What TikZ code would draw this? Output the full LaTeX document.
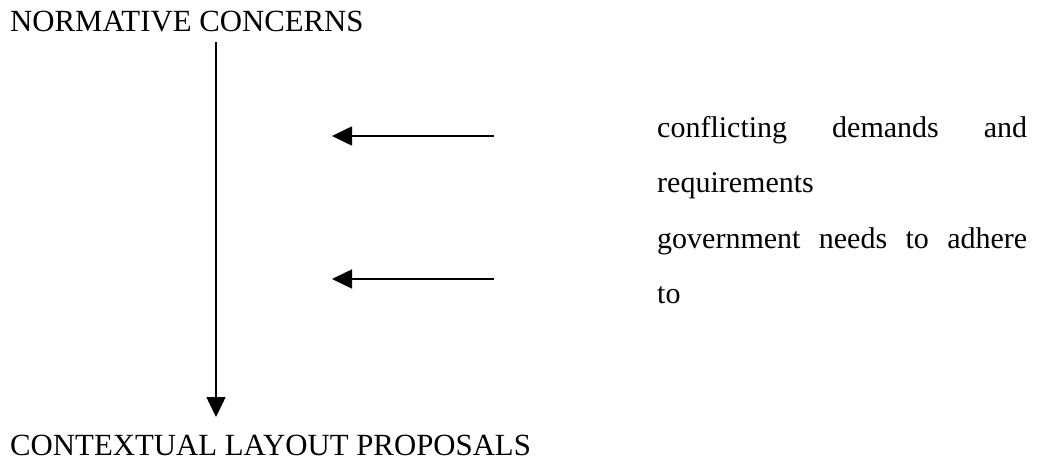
\documentclass[tikz,border=0pt]{standalone}
\usepackage{fontspec}
\setmainfont{Liberation Serif}
\usetikzlibrary{arrows.meta}
\begin{document}
\begin{tikzpicture}[x=1pt,y=-1pt,
  lbl/.style={anchor=base west,inner sep=0pt,font=\fontsize{30}{36}\selectfont},
  ttl/.style={lbl,font=\fontsize{30.8}{36}\selectfont},
  arr/.style={line width=1.6pt,-{Triangle[length=20pt,width=19pt]}}]
\useasboundingbox (0,0) rectangle (1040,470);
\node[ttl] (top) at (10,32) {NORMATIVE CONCERNS};
\node[ttl] (bottom) at (10,455) {CONTEXTUAL LAYOUT PROPOSALS};
\coordinate (vs) at (216,42);
\coordinate (ve) at (216,417);
\draw[arr] (vs) -- (ve);
\coordinate (a1s) at (494,136);
\coordinate (a1e) at (332,136);
\draw[arr] (a1s) -- (a1e);
\coordinate (a2s) at (494,279);
\coordinate (a2e) at (332,279);
\draw[arr] (a2s) -- (a2e);
\node[lbl] (t1) at (657,138) {\makebox[370pt][s]{conflicting demands and}};
\node[lbl] (t2) at (657,193) {requirements};
\node[lbl] (t3) at (657,248) {\makebox[370pt][s]{government needs to adhere}};
\node[lbl] (t4) at (657,303) {to};
\end{tikzpicture}
\end{document}
